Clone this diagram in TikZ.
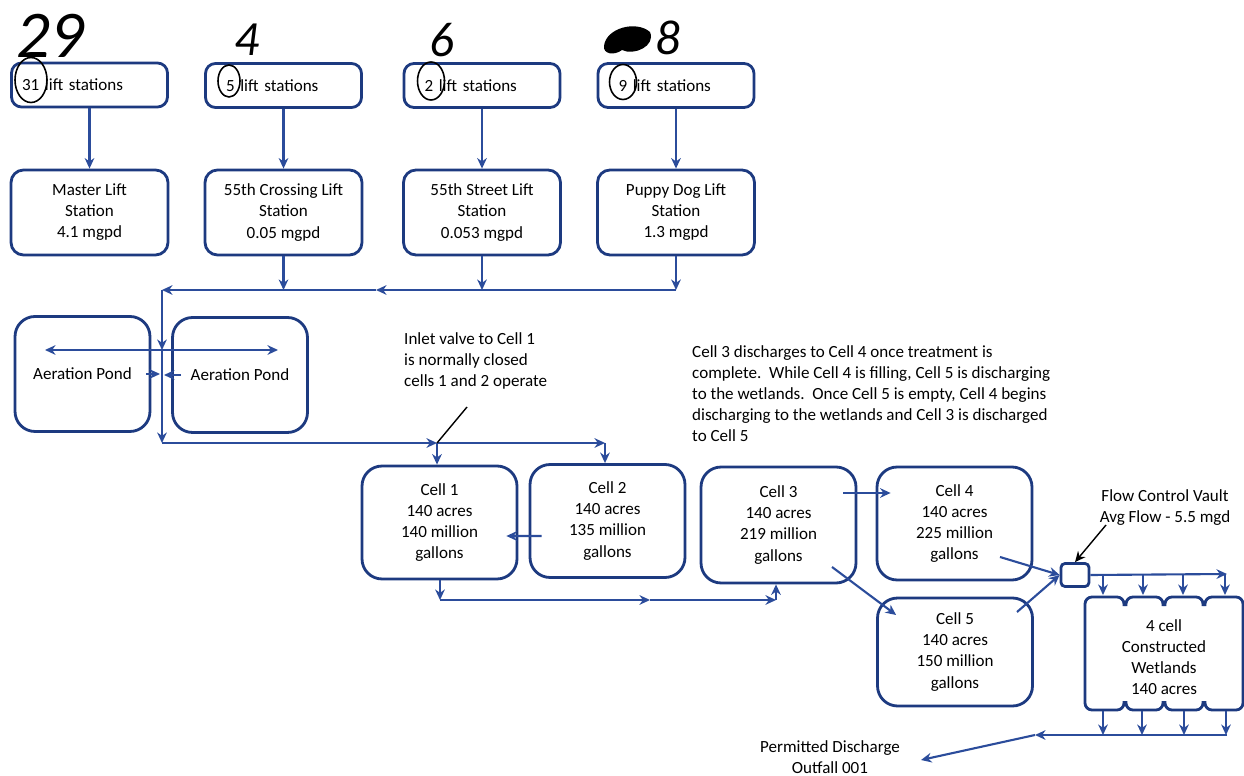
\documentclass[tikz,border=0pt]{standalone}
\usepackage{fontspec}
\setmainfont{Carlito}
\usetikzlibrary{arrows.meta,positioning,calc}

\definecolor{boxblue}{HTML}{1D3A80}
\definecolor{flowblue}{HTML}{2B4C9B}

\begin{document}
\begin{tikzpicture}[
    x=0.02cm, y=-0.02cm,
    >={Stealth[length=6pt,width=5.5pt]},
    every node/.style={font=\fontsize{9.7}{12}\selectfont},
    liftbox/.style={rectangle, draw=boxblue, line width=1.6pt, rounded corners=0.2cm, minimum width=3.12cm, minimum height=0.88cm, text width=2.3cm, align=left},
    station/.style={rectangle, draw=boxblue, line width=1.6pt, rounded corners=0.25cm, minimum width=3.14cm, minimum height=1.7cm, align=center},
    pond/.style={rectangle, draw=boxblue, line width=1.6pt, rounded corners=0.4cm, minimum width=2.7cm, minimum height=2.3cm},
    cell/.style={rectangle, draw=boxblue, line width=1.6pt, rounded corners=0.4cm, minimum width=3.1cm, minimum height=2.26cm, align=center},
    vault/.style={rectangle, draw=boxblue, line width=1.6pt, rounded corners=0.08cm, minimum width=0.56cm, minimum height=0.46cm},
    boxline/.style={draw=boxblue, line width=1.6pt, rounded corners=0.14cm},
    flow/.style={draw=flowblue, line width=1.2pt, ->},
    pointer/.style={draw=black, line width=0.8pt, ->},
    hand/.style={font=\fontsize{28}{28}\selectfont\itshape},
    handline/.style={draw=black, line width=0.9pt}
]
\useasboundingbox (0,0) rectangle (1244,776);

% lift station groups
\node[liftbox, text width=2.7cm] (ls1) at (89.5,85) {31 lift stations};
\node[liftbox] (ls2) at (283.5,85.5) {5 lift stations};
\node[liftbox] (ls3) at (482,85.5) {2 lift stations};
\node[liftbox] (ls4) at (676,85.5) {9 lift stations};

% hand notes
\node[hand, font=\fontsize{38}{38}\selectfont\itshape] (hand1) at (50,36) {29};
\node[hand] (hand2) at (247,40) {4};
\node[hand] (hand3) at (442,40) {6};
\node[hand] (hand4) at (668,38) {8};
\fill (604,46) .. controls (606,28) and (636,20) .. (650,32) .. controls (656,46) and (634,56) .. (622,50) .. controls (614,56) and (603,54) .. cycle;
\draw[handline] (31,80) ellipse [x radius=0.32cm, y radius=0.45cm];
\draw[handline] (229,81) ellipse [x radius=0.22cm, y radius=0.32cm];
\draw[handline] (431,81) ellipse [x radius=0.27cm, y radius=0.38cm];
\draw[handline] (623,82) ellipse [x radius=0.27cm, y radius=0.35cm];

% main stations
\node[station] (master) at (89.5,212.5) {Master Lift\\Station\\4.1 mgpd};
\node[station] (crossing) at (283.5,212.5) {55th Crossing Lift\\Station\\0.05 mgpd};
\node[station] (street) at (482,212.5) {55th Street Lift\\Station\\0.053 mgpd};
\node[station] (puppy) at (676,212.5) {Puppy Dog Lift\\Station\\1.3 mgpd};

\draw[flow] (ls1) -- (master);
\draw[flow] (ls2) -- (crossing);
\draw[flow] (ls3) -- (street);
\draw[flow] (ls4) -- (puppy);

% header line
\coordinate (merge) at (162,290);
\coordinate (mergemid) at (376,290);
\draw[flow] (crossing) -- (crossing |- merge);
\draw[flow] (street) -- (street |- merge);
\draw[flow] (puppy) -- (puppy |- merge);
\draw[flow] (puppy |- merge) -- (mergemid);
\draw[flow] (mergemid) -- (merge);

% aeration
\node[pond] (pond1) at (82.5,374) {Aeration Pond};
\node[pond] (pond2) at (240,375) {Aeration Pond};
\coordinate (split) at (162,350);
\coordinate (drop) at (162,443);
\coordinate (aerl) at (45,350);
\coordinate (aerr) at (278,350);
\coordinate (retl) at (160,374);
\coordinate (retr) at (164,375);
\draw[flow] (merge) -- (split);
\draw[flow] (split) -- (drop);
\draw[flow, <->] (aerl) -- (aerr);
\draw[flow] ([xshift=-0.1cm]pond1.east) -- (retl);
\draw[flow] ([xshift=0.2cm]pond2.west) -- (retr);

% cells
\node[cell] (cell1) at (439.5,522.5) {Cell 1\\140 acres\\140 million\\gallons};
\node[cell] (cell2) at (607.5,521) {Cell 2\\140 acres\\135 million\\gallons};
\node[cell, minimum height=2.32cm] (cell3) at (778.5,525) {Cell 3\\140 acres\\219 million\\gallons};
\node[cell] (cell4) at (954.5,523.5) {Cell 4\\140 acres\\225 million\\gallons};
\node[cell, minimum height=2.16cm] (cell5) at (955,652) {Cell 5\\140 acres\\150 million\\gallons};

\coordinate (inlet1) at (437,443);
\coordinate (inlet2) at (605,443);
\draw[flow] (drop) -- (inlet1);
\draw[flow] (inlet1) -- (inlet2);
\draw[flow] (inlet1) -- (inlet1 |- cell1.north);
\draw[flow] (inlet2) -- (inlet2 |- cell2.north);
\draw[flow] ($(cell2.west)+(13,15)$) -- ($(cell1.east)+(-12,13.5)$);

\coordinate (low1) at (440,600);
\coordinate (lowmid) at (650,600);
\coordinate (low3) at (776,600);
\draw[flow] (low1 |- cell1.south) -- (low1);
\draw[flow] (low1) -- (lowmid);
\draw[flow] (lowmid) -- (low3);
\draw[flow] (low3) -- (low3 |- cell3.south);

\draw[flow] ($(cell3.east)+(-14,-32)$) -- ($(cell4.west)+(15,-30.5)$);
\draw[flow] ($(cell3.center)+(53.5,42)$) -- ($(cell5.west)+(20,-37)$);

% flow control vault
\node[vault] (vault) at (1075,575) {};
\draw[flow] ($(cell4.center)+(45.5,33.5)$) -- (vault.west);
\draw[flow] ($(cell5.center)+(62,-40)$) -- (vault.west);
\node[align=center] (fcvnote) at (1165,508) {Flow Control Vault\\Avg Flow - 5.5 mgd};
\coordinate (fcvtip) at (1106,525);
\draw[pointer] (fcvtip) -- (vault.north);

% wetlands
\node[align=center] (wetland) at (1164,657) {4 cell\\Constructed\\Wetlands\\140 acres};
\draw[boxline] (1124,606) -- (1124,597) -- (1085,597) -- (1085,710) -- (1124,710) -- (1124,701);
\draw[boxline] (1205,606) -- (1205,597) -- (1243,597) -- (1243,710) -- (1205,710) -- (1205,701);
\foreach \a/\b in {1126/1163,1165/1203} {
  \draw[boxline] (\a,606) -- (\a,597) -- (\b,597) -- (\b,606);
  \draw[boxline] (\a,701) -- (\a,710) -- (\b,710) -- (\b,701);
}
\coordinate (feed) at (1227,574);
\coordinate (wettop) at (1164,595);
\draw[flow] (vault.east) -- (feed);
\foreach \x [count=\i] in {1103,1143,1183,1225} {
  \coordinate (tap\i) at (\x,574);
  \draw[flow] (tap\i) -- (tap\i |- wettop);
}

% discharge
\coordinate (collect) at (1035,735);
\coordinate (collectend) at (1227,735);
\foreach \x [count=\i] in {1103,1142,1184,1226} {
  \coordinate (out\i) at (\x,711);
  \draw[flow] (out\i) -- (out\i |- collect);
}
\draw[flow] (collectend) -- (collect);
\node[align=center] (outfall) at (830,757) {Permitted Discharge\\Outfall 001};
\coordinate (outtip) at (921,760);
\draw[flow] (collect) -- (outtip);

% notes
\node[anchor=north west, align=left] (inletnote) at (398,326) {Inlet valve to Cell 1\\is normally closed\\cells 1 and 2 operate};
\coordinate (valvefrom) at (467,407);
\draw[pointer, -] (valvefrom) -- (inlet1);
\node[anchor=north west, align=left] (cellnote) at (686,339) {Cell 3 discharges to Cell 4 once treatment is\\complete.\ \ While Cell 4 is filling, Cell 5 is discharging\\to the wetlands.\ \ Once Cell 5 is empty, Cell 4 begins\\discharging to the wetlands and Cell 3 is discharged\\to Cell 5};

\end{tikzpicture}
\end{document}
